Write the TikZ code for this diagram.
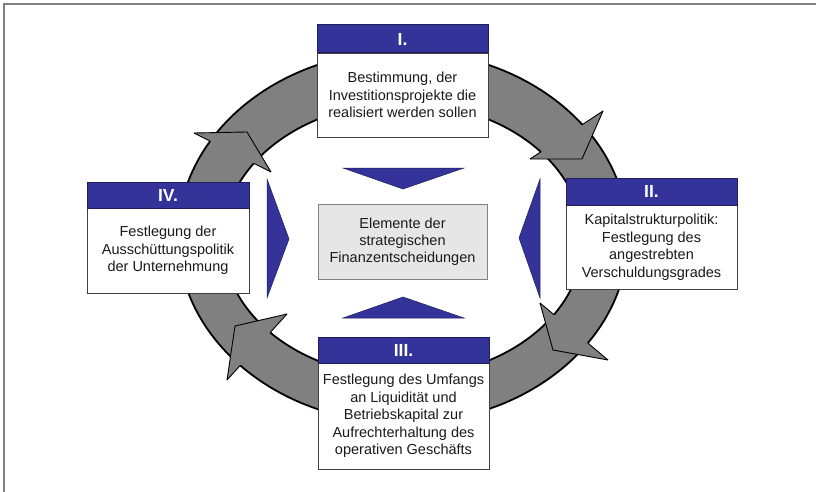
\documentclass[tikz,border=0pt]{standalone}
\usepackage{fontspec}
\setmainfont{Liberation Sans}
\definecolor{navy}{HTML}{333399}
\definecolor{navyedge}{HTML}{1F1F5C}
\definecolor{ringgray}{HTML}{808080}
\definecolor{boxedge}{HTML}{404040}
\definecolor{centerfill}{HTML}{E6E6E6}
\definecolor{txt}{HTML}{1A1A1A}
\tikzset{
  frameline/.style={draw=gray, line width=1.6pt},
  ringfill/.style={fill=ringgray},
  ringline/.style={draw=black, line width=1.8pt},
  headline/.style={draw=black, line width=0.9pt, line join=miter},
  hdr/.style={draw=navyedge, fill=navy, line width=1pt, inner sep=0pt,
    text=white, font=\fontsize{17.5pt}{20pt}\selectfont\bfseries},
  bodybox/.style={draw=boxedge, fill=white, line width=0.9pt, inner sep=0pt,
    align=center, text=txt, font=\fontsize{14.5pt}{17.5pt}\selectfont},
  centerbox/.style={draw=gray, fill=centerfill, line width=0.9pt, inner sep=0pt,
    align=center, text=txt, font=\fontsize{14.5pt}{17pt}\selectfont},
  pointer/.style={fill=navy, draw=navyedge, line width=0.5pt, line join=miter}
}
\begin{document}
\begin{tikzpicture}[x=1pt, y=-1pt]
\useasboundingbox (0,0) rectangle (816,492);
\fill[white] (0,0) rectangle (816,492);
% frame (top and left edges)
\coordinate (fa) at (4,492);
\coordinate (fb) at (4,4);
\coordinate (fc) at (816,4);
\draw[frameline] (fa) -- (fb) -- (fc);

% ring
\fill[ringfill, even odd rule] (403,237) ellipse (225 and 186) (403,240) ellipse (180 and 137);
\draw[ringline] (403,237) ellipse (225 and 186);
\draw[ringline] (403,240) ellipse (180 and 137);

% arrow heads: outer barb, tip, inner barb
\coordinate (h1o) at (603,111); \coordinate (h1t) at (582,159); \coordinate (h1i) at (530,159);
\coordinate (h2o) at (608,360); \coordinate (h2t) at (553,350); \coordinate (h2i) at (540,303);
\coordinate (h3o) at (227,380); \coordinate (h3t) at (235,326); \coordinate (h3i) at (287,314);
\coordinate (h4o) at (194,133); \coordinate (h4t) at (247,132); \coordinate (h4i) at (271,172);
\foreach \h in {h1,h2,h3,h4}{
  \fill[ringfill] (\h o) -- (\h t) -- (\h i) -- cycle;
  \draw[headline] (\h o) -- (\h t) -- (\h i);
}
\begin{scope}[even odd rule]
  \clip (0,0) rectangle (816,492) (403,237) ellipse (225 and 186) (403,240) ellipse (180 and 137);
  \foreach \h in {h1,h2,h3,h4}{
    \draw[headline] (\h o) -- (\h i);
  }
\end{scope}

% box I
\node[bodybox, minimum width=171pt, minimum height=84pt] (b1) at (402.5,95)
  {Bestimmung, der\\Investitionsprojekte die\\realisiert werden sollen};
\node[hdr, minimum width=171pt, minimum height=28pt] (k1) at (402.5,39) {I.};
% box II
\node[bodybox, minimum width=171pt, minimum height=84pt] (b2) at (651.5,247)
  {Kapitalstrukturpolitik:\\Festlegung des\\angestrebten\\Verschuldungsgrades};
\node[hdr, minimum width=171pt, minimum height=27pt] (k2) at (651.5,191.5) {II.};
% box IV
\node[bodybox, minimum width=162pt, minimum height=85pt] (b4) at (168,250.5)
  {Festlegung der\\Ausschüttungspolitik\\der Unternehmung};
\node[hdr, minimum width=162pt, minimum height=26pt] (k4) at (168,195) {IV.};
% box III
\node[bodybox, minimum width=171pt, minimum height=106pt] (b3) at (403.5,416)
  {Festlegung des Umfangs\\an Liquidität und\\Betriebskapital zur\\Aufrechterhaltung des\\operativen Geschäfts};
\node[hdr, minimum width=171pt, minimum height=26pt] (k3) at (403.5,350) {III.};
% center box
\node[centerbox, minimum width=169pt, minimum height=75pt] (c) at (402.5,241.5)
  {Elemente der\\strategischen\\Finanzentscheidungen};

% navy pointers
\coordinate (pt1) at (343,168); \coordinate (pt2) at (464,168); \coordinate (pt3) at (403,189);
\coordinate (pb1) at (343,318); \coordinate (pb2) at (464,318); \coordinate (pb3) at (403,297);
\coordinate (pr1) at (540,179); \coordinate (pr2) at (540,298); \coordinate (pr3) at (519,238);
\coordinate (pl1) at (267,179); \coordinate (pl2) at (267,298); \coordinate (pl3) at (289,239);
\draw[pointer] (pt1) -- (pt2) -- (pt3) -- cycle;
\draw[pointer] (pb1) -- (pb2) -- (pb3) -- cycle;
\draw[pointer] (pr1) -- (pr2) -- (pr3) -- cycle;
\draw[pointer] (pl1) -- (pl2) -- (pl3) -- cycle;
\end{tikzpicture}
\end{document}
